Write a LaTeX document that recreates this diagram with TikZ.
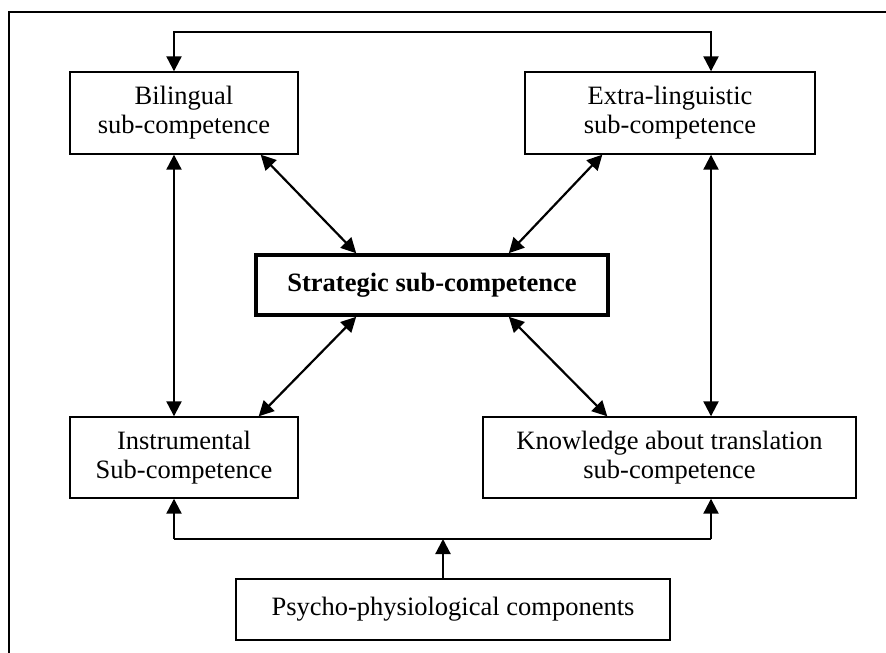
\documentclass[tikz,border=0pt]{standalone}
\usepackage{fontspec}
\setmainfont{Liberation Serif}
\usetikzlibrary{arrows.meta}
\tikzset{%
  compbox/.style  = {shape=rectangle, draw, line width=1.4pt, align=center,%
                     inner sep=0pt, font=\fontsize{26.5}{29}\selectfont},%
  corebox/.style  = {compbox, line width=3.6pt, font=\fontsize{26.5}{29}\selectfont\bfseries},%
  link/.style     = {line width=2.2pt, arrows={-Triangle[length=15pt,width=15pt]}},%
  dlink/.style    = {line width=2.2pt, arrows={Triangle[length=15pt,width=15pt]-Triangle[length=15pt,width=15pt]}},%
  frame/.style    = {line width=2pt}%
}
\begin{document}
\begin{tikzpicture}[x=1pt,y=1pt]
	\useasboundingbox (0,0) rectangle (886,-653);
	\draw [frame] (8.5,-660) -- (8.5,-12) -- (890,-12);
		\node [compbox, minimum width=228pt, minimum height=82pt] (bil) at (184,-113)
			{Bilingual\\sub-competence};
		\node [compbox, minimum width=290pt, minimum height=82pt] (ext) at (670,-113)
			{Extra-linguistic\\sub-competence};
		\node [corebox, minimum width=352pt, minimum height=60pt] (str) at (432,-285)
			{Strategic sub-competence};
		\node [compbox, minimum width=228pt, minimum height=81pt] (ins) at (184,-457.5)
			{Instrumental\\Sub-competence};
		\node [compbox, minimum width=373pt, minimum height=81pt] (kno) at (669.5,-457.5)
			{Knowledge about translation\\sub-competence};
		\node [compbox, minimum width=434pt, minimum height=61pt] (psy) at (453,-609.5)
			{Psycho-physiological components};
	\coordinate (topl) at (174,-32);
	\coordinate (topr) at (711,-32);
	\coordinate (botl) at (174,-539);
	\coordinate (botr) at (711,-539);
	\coordinate (botm) at (443,-539);
		\draw [dlink] (bil.north -| topl) -- (topl) -- (topr) -- (ext.north -| topr);
		\draw [dlink] (bil.south -| topl) -- (ins.north -| topl);
		\draw [dlink] (ext.south -| topr) -- (kno.north -| topr);
		\draw [dlink] ([xshift=-38pt]bil.south east) -- ([xshift=102pt]str.north west);
		\draw [dlink] ([xshift=78pt]ext.south west) -- ([xshift=-101pt]str.north east);
		\draw [dlink] ([xshift=102pt]str.south west) -- ([xshift=-40pt]ins.north east);
		\draw [dlink] ([xshift=-101pt]str.south east) -- ([xshift=125pt]kno.north west);
		\draw [frame] (botl) -- (botr);
		\draw [link] (botl) -- (ins.south -| botl);
		\draw [link] (botr) -- (kno.south -| botr);
		\draw [link] (psy.north -| botm) -- (botm);
\end{tikzpicture}
\end{document}
